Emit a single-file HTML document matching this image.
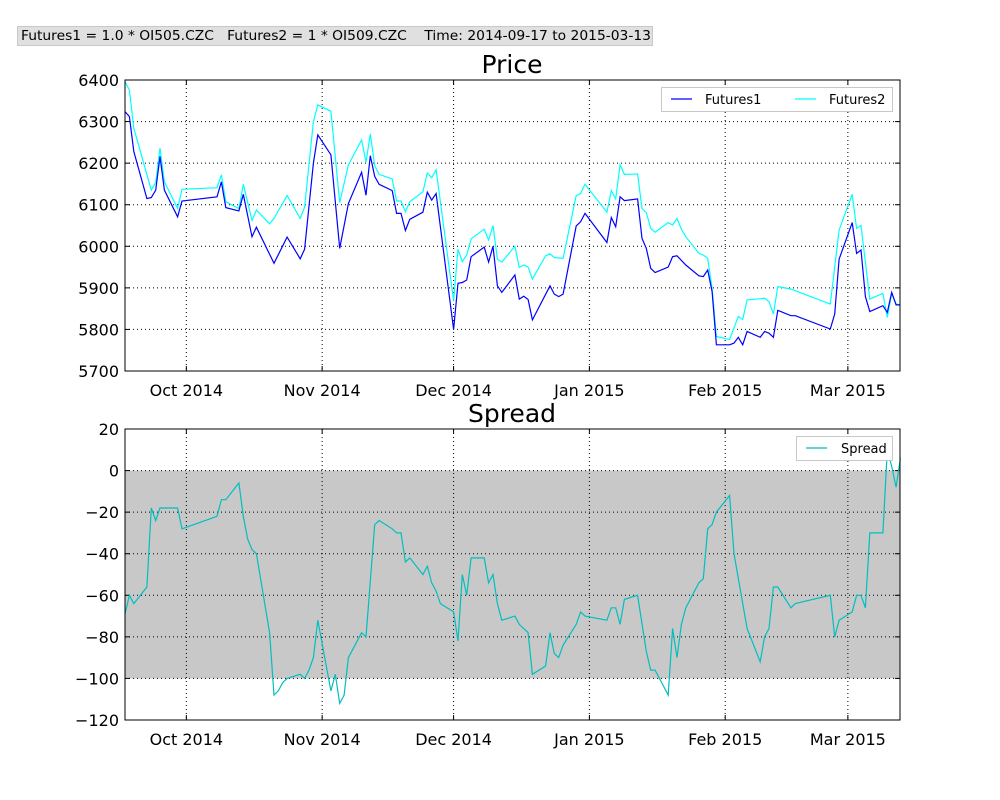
<!DOCTYPE html>
<html><head><meta charset="utf-8"><style>
body{margin:0;background:#fff;}
svg{display:block;font-family:"DejaVu Sans","Liberation Sans",sans-serif;}
</style></head><body>
<svg id="chart" width="1000" height="800" viewBox="0 0 1000 800">
<rect x="17.5" y="26.5" width="635" height="19" fill="#e0e0e0" stroke="#c8c8c8"/>
<text x="21" y="40" font-size="13" fill="#000" xml:space="preserve" textLength="630" lengthAdjust="spacingAndGlyphs">Futures1 = 1.0 * OI505.CZC   Futures2 = 1 * OI509.CZC    Time: 2014-09-17 to 2015-03-13</text>
<text x="512" y="73" font-size="25" text-anchor="middle">Price</text>
<text x="512" y="422" font-size="25" text-anchor="middle">Spread</text>
</svg>
<script>
const months = ["Oct 2014","Nov 2014","Dec 2014","Jan 2015","Feb 2015","Mar 2015"];
const monthDays = [14,45,75,106,137,165];
const priceTicks = [5700,5800,5900,6000,6100,6200,6300,6400];
const spreadTicks = [-120,-100,-80,-60,-40,-20,0,20];
const f1Days = [0,1,2,5,6,7,8,9,12,13,21,22,23,26,27,29,30,34,37,40,41,43,44,47,49,51,54,55,56,57,58,61,62,63,64,65,68,69,70,71,75,76,77,78,79,82,83,84,85,86,89,90,91,92,93,97,98,99,100,103,104,105,110,111,112,113,114,117,118,119,120,121,124,125,126,128,131,132,133,134,135,138,139,140,141,142,145,146,147,148,149,152,153,161,162,163,166,167,168,169,170,173,174,175,176,177];
const f1Vals = [6324,6312,6228,6115,6117,6135,6216,6135,6071,6109,6119,6155,6093,6085,6125,6023,6046,5959,6022,5970,5993,6200,6268,6220,5995,6103,6178,6123,6218,6168,6149,6134,6079,6079,6038,6065,6082,6130,6111,6127,5800,5911,5913,5919,5975,5998,5962,6000,5905,5889,5931,5873,5880,5872,5823,5905,5885,5879,5885,6049,6059,6079,6009,6069,6047,6119,6110,6114,6019,5995,5947,5937,5950,5975,5977,5955,5929,5927,5943,5891,5763,5763,5767,5781,5763,5795,5781,5795,5791,5781,5846,5833,5833,5801,5837,5969,6057,5983,5991,5879,5843,5857,5841,5889,5859,5859];
const f2Days = [0,1,2,6,7,8,9,12,13,21,22,23,26,27,29,30,33,34,37,40,41,43,44,47,49,51,54,55,56,57,58,61,62,63,64,65,68,69,70,71,75,76,77,78,79,82,83,84,85,86,89,90,91,92,93,96,97,98,100,103,104,105,110,111,112,113,114,117,118,119,120,121,124,125,126,127,128,131,132,133,134,135,138,140,141,142,146,147,148,149,152,161,163,166,167,168,170,173,174,175,176,177];
const f2Vals = [6396,6376,6284,6135,6154,6236,6155,6091,6137,6141,6172,6107,6091,6149,6062,6087,6054,6067,6122,6067,6094,6300,6340,6325,6105,6196,6256,6202,6270,6194,6173,6162,6109,6109,6083,6107,6131,6176,6165,6184,5869,5993,5963,5979,6018,6041,6015,6050,5969,5962,6000,5949,5955,5950,5921,5977,5982,5973,5971,6122,6127,6149,6082,6134,6114,6196,6173,6174,6091,6081,6043,6034,6057,6051,6067,6041,6023,5983,5979,5971,5899,5783,5776,5831,5824,5871,5875,5867,5837,5903,5897,5861,6039,6125,6043,6050,5873,5887,5829,5887,5861,5859];
const spDays = [0,1,2,5,6,7,8,12,13,21,22,23,26,27,28,29,30,33,34,35,36,37,40,41,42,43,44,47,48,49,50,51,54,55,57,58,61,62,63,64,65,68,69,70,71,72,75,76,77,78,79,82,83,84,85,86,89,90,92,93,96,97,98,99,100,103,104,105,110,111,112,113,114,117,119,120,121,124,125,126,127,128,131,132,133,134,135,138,139,142,145,146,147,148,149,152,153,161,162,163,166,167,168,169,170,173,174,175,176,177];
const spVals = [-69,-60,-64,-56,-18,-24,-18,-18,-28,-22,-14,-14,-6,-22,-33,-38,-40,-78,-108,-106,-102,-100,-98,-100,-96,-90,-72,-106,-98,-112,-108,-90,-78,-80,-26,-24,-28,-30,-30,-44,-42,-50,-46,-54,-58,-64,-68,-82,-50,-60,-42,-42,-54,-50,-64,-72,-70,-74,-78,-98,-94,-78,-88,-90,-84,-74,-68,-70,-72,-66,-66,-74,-62,-60,-87,-96,-96,-108,-76,-90,-74,-66,-54,-52,-28,-26,-20,-12,-40,-76,-92,-80,-76,-56,-56,-66,-64,-60,-80,-72,-68,-60,-60,-66,-30,-30,10,2,-8,6];

const NS="http://www.w3.org/2000/svg";
const svg=document.getElementById('chart');
const L=125,R=900,DMAX=176.9;
function xs(d){return L+d*(R-L)/DMAX;}
function mk(tag,attrs){const e=document.createElementNS(NS,tag);for(const k in attrs)e.setAttribute(k,attrs[k]);svg.appendChild(e);return e;}
const ysP=v=>371-(v-5700)*291/700;
const ysS=v=>720-(v+120)*291/140;

const band=mk('rect',{x:L,y:ysS(0),width:R-L,height:ysS(-100)-ysS(0),fill:'#c8c8c8'});



function axes(top,bot,ys,ticks,pname){
  ticks.forEach((t,i)=>{
    const y=ys(t);
    if(i>0&&i<ticks.length-1){
      const g=mk('line',{x1:L,x2:R,y1:y,y2:y,stroke:'#000','stroke-dasharray':'1,3','stroke-width':1});
      
      
    }
    mk('line',{x1:L,x2:L+5,y1:y,y2:y,stroke:'#000'});
    mk('line',{x1:R-5,x2:R,y1:y,y2:y,stroke:'#000'});
    const tx=mk('text',{x:L-6,y:y+6,'font-size':16,'text-anchor':'end'});
    tx.textContent=(t<0?'\u2212'+Math.abs(t):t);
    
    
  });
  monthDays.forEach((d,i)=>{
    const x=xs(d);
    const g=mk('line',{x1:x,x2:x,y1:top,y2:bot,stroke:'#000','stroke-dasharray':'1,3'});
    
    
    mk('line',{x1:x,x2:x,y1:bot-5,y2:bot,stroke:'#000'});
    mk('line',{x1:x,x2:x,y1:top,y2:top+5,stroke:'#000'});
    const tx=mk('text',{x:x,y:bot+25,'font-size':16,'text-anchor':'middle'});
    tx.textContent=months[i];
    
    
  });
}
axes(80,371,ysP,priceTicks,'price');
axes(429,720,ysS,spreadTicks,'spread');

function line(days,vals,ys,color,name){
  const p=days.map((d,i)=>xs(d).toFixed(1)+','+ys(vals[i]).toFixed(1)).join(' ');
  const e=mk('polyline',{points:p,fill:'none',stroke:color,'stroke-width':1.2});
  
  
}
line(f2Days,f2Vals,ysP,'#00ffff','futures2-line');
line(f1Days,f1Vals,ysP,'#0000ff','futures1-line');
line(spDays,spVals,ysS,'#00bfbf','spread-line');

[[80,371,'price-frame'],[429,720,'spread-frame']].forEach(a=>{
  const f=mk('rect',{x:L,y:a[0],width:R-L,height:a[1]-a[0],fill:'none',stroke:'#000','stroke-width':1});
  
  
});

const lg=mk('rect',{x:661.5,y:87.5,width:231,height:24,fill:'#fff',stroke:'#c8c8c8'});


mk('line',{x1:671,x2:692,y1:99,y2:99,stroke:'#0000ff','stroke-width':1.2});
let t=mk('text',{x:705,y:104,'font-size':13});t.textContent='Futures1';


mk('line',{x1:795,x2:816,y1:99,y2:99,stroke:'#00ffff','stroke-width':1.2});
t=mk('text',{x:829,y:104,'font-size':13});t.textContent='Futures2';


const lg2=mk('rect',{x:796.5,y:436.5,width:96,height:24,fill:'#fff',stroke:'#c8c8c8'});


mk('line',{x1:806,x2:827,y1:448,y2:448,stroke:'#00bfbf','stroke-width':1.2});
t=mk('text',{x:841,y:453,'font-size':13});t.textContent='Spread';


</script>
</body></html>
